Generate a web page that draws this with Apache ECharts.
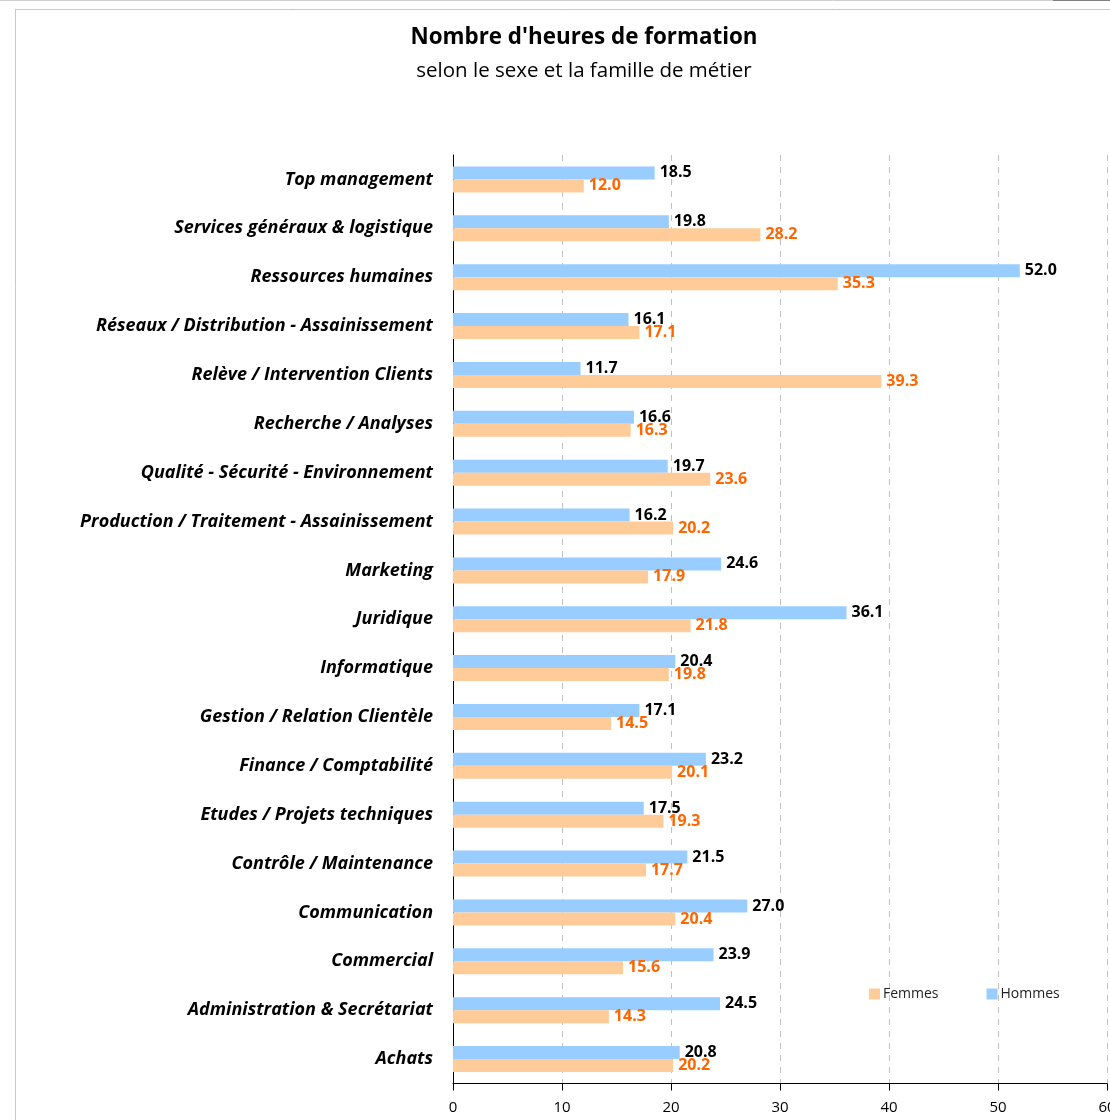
<!DOCTYPE html>
<html>
<head>
<meta charset="utf-8">
<script src="https://cdn.jsdelivr.net/npm/echarts@6/dist/echarts.min.js"></script>
<style>
  html, body { margin: 0; padding: 0; background: #fff; }
  #chart { width: 1110px; height: 1120px; }
</style>
</head>
<body>
<div id="chart"></div>
<script>
// Training hours by job family, split by sex (bottom to top on the axis)
const categories = [
  'Achats',
  'Administration & Secrétariat',
  'Commercial',
  'Communication',
  'Contrôle / Maintenance',
  'Etudes / Projets techniques',
  'Finance / Comptabilité',
  'Gestion / Relation Clientèle',
  'Informatique',
  'Juridique',
  'Marketing',
  'Production / Traitement - Assainissement',
  'Qualité - Sécurité - Environnement',
  'Recherche / Analyses',
  'Relève / Intervention Clients',
  'Réseaux / Distribution - Assainissement',
  'Ressources humaines',
  'Services généraux & logistique',
  'Top management'
];
const hommes = [20.8, 24.5, 23.9, 27.0, 21.5, 17.5, 23.2, 17.1, 20.4, 36.1, 24.6, 16.2, 19.7, 16.6, 11.7, 16.1, 52.0, 19.8, 18.5];
const femmes = [20.2, 14.3, 15.6, 20.4, 17.7, 19.3, 20.1, 14.5, 19.8, 21.8, 17.9, 20.2, 23.6, 16.3, 39.3, 17.1, 35.3, 28.2, 12.0];
const xTicks = [0, 10, 20, 30, 40, 50, 60];

const FONT = '"Open Sans", Lato, sans-serif';
const chart = echarts.init(document.getElementById('chart'), null, { renderer: 'canvas' });

chart.setOption({
  backgroundColor: '#ffffff',
  animation: false,
  title: {
    text: "Nombre d'heures de formation",
    subtext: 'selon le sexe et la famille de métier',
    left: 584,
    textAlign: 'center',
    top: 27,
    padding: 0,
    itemGap: 12,
    textStyle: { fontFamily: FONT, fontSize: 22.4, fontWeight: 'bold', color: '#000' },
    subtextStyle: { fontFamily: FONT, fontSize: 20.5, color: '#000' }
  },
  graphic: [
    { type: 'line', shape: { x1: 0, y1: 0.5, x2: 1110, y2: 0.5 }, style: { stroke: '#d0d0d0', lineWidth: 1 } },
    { type: 'line', shape: { x1: 1053, y1: 0.5, x2: 1110, y2: 0.5 }, style: { stroke: '#808080', lineWidth: 1 } },
    { type: 'line', shape: { x1: 15.5, y1: 9, x2: 15.5, y2: 1120 }, style: { stroke: '#c8c8c8', lineWidth: 1 } },
    { type: 'line', shape: { x1: 15, y1: 9.5, x2: 1110, y2: 9.5 }, style: { stroke: '#c8c8c8', lineWidth: 1 } }
  ],
  legend: {
    data: ['Femmes', 'Hommes'],
    left: 869,
    top: 987,
    padding: 0,
    itemWidth: 11,
    itemHeight: 11,
    itemGap: 48,
    icon: 'rect',
    textStyle: { fontFamily: FONT, fontSize: 14, color: '#222', padding: [0, 0, 0, -2] }
  },
  grid: { left: 453, right: 3, top: 155, bottom: 36.5, containLabel: false, outerBoundsMode: 'none' },
  xAxis: {
    type: 'value',
    min: xTicks[0],
    max: xTicks[xTicks.length - 1],
    interval: 10,
    axisLine: { show: true, lineStyle: { color: '#000', width: 1 } },
    axisTick: { show: true, length: 7, lineStyle: { color: '#000' } },
    axisLabel: {
      fontFamily: FONT, fontSize: 15, color: '#000', margin: 17,
      formatter: v => String(v)
    },
    splitLine: { show: true, lineStyle: { color: '#c0c0c0', type: [6, 6], width: 1 } }
  },
  yAxis: {
    type: 'category',
    data: categories,
    axisLine: { show: true, lineStyle: { color: '#000', width: 1 } },
    axisTick: { show: false },
    axisLabel: {
      fontFamily: FONT, fontSize: 18, fontWeight: 'bold', fontStyle: 'italic',
      color: '#000', margin: 20, padding: [6, 0, 0, 0]
    }
  },
  series: [
    {
      name: 'Hommes',
      type: 'bar',
      data: hommes,
      barWidth: 13,
      barGap: '0%',
      itemStyle: { color: '#99CCFF' },
      label: {
        show: true, position: 'right', distance: 5,
        fontFamily: FONT, fontSize: 16, fontWeight: 'bold', color: '#000',
        formatter: p => p.value.toFixed(1)
      }
    },
    {
      name: 'Femmes',
      type: 'bar',
      data: femmes,
      barWidth: 13,
      barGap: '0%',
      itemStyle: { color: '#FFCC99' },
      label: {
        show: true, position: 'right', distance: 5,
        fontFamily: FONT, fontSize: 16, fontWeight: 'bold', color: '#FF6600',
        formatter: p => p.value.toFixed(1)
      }
    }
  ]
});
</script>
</body>
</html>
